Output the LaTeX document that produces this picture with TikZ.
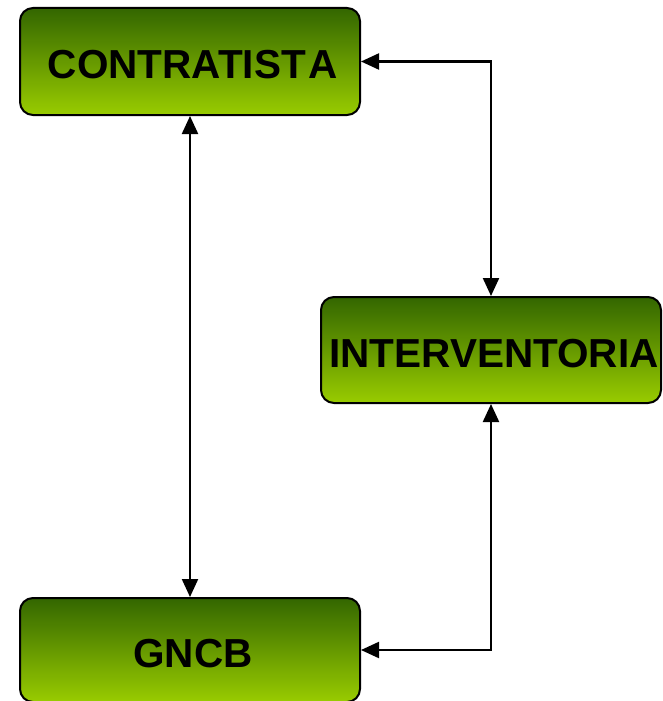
\documentclass[tikz,border=0pt]{standalone}
\usepackage{fontspec}
\setmainfont{Liberation Sans}
\usetikzlibrary{arrows.meta}
\definecolor{gtop}{RGB}{51,102,0}
\definecolor{gbot}{RGB}{153,204,0}
% nudge a label slightly right and down without changing its reported height
\newcommand{\boxlabel}[1]{\kern6pt\raisebox{-3pt}[\height][0pt]{#1}}
\tikzset{
  greenbox/.style={draw=black, line width=2pt, rounded corners=13pt,
    top color=gtop, bottom color=gbot, minimum width=340pt,
    inner sep=0pt, font=\fontsize{40.5}{40.5}\selectfont\bfseries, text=black},
  link/.style={line width=2.2pt, {Triangle[length=18pt,width=16pt]}-{Triangle[length=18pt,width=16pt]}}
}
\begin{document}
\begin{tikzpicture}[x=1pt,y=-1pt]
  \useasboundingbox (0,0) rectangle (662,701);
  % process boxes
  \node[greenbox, minimum height=107pt] (con) at (190,61.5) {\boxlabel{CONTRATIST\kern3pt A}};
  \node[greenbox, minimum height=106pt] (int) at (491,350) {\boxlabel{INTERVENTORIA}};
  \node[greenbox, minimum height=104pt] (gncb) at (190,650) {\boxlabel{GNCB}};
  % connections
  \draw[link] (con.east) -| (int.north);
  \draw[link] (con.south) -- (gncb.north);
  \draw[link] (gncb.east) -| (int.south);
\end{tikzpicture}
\end{document}
